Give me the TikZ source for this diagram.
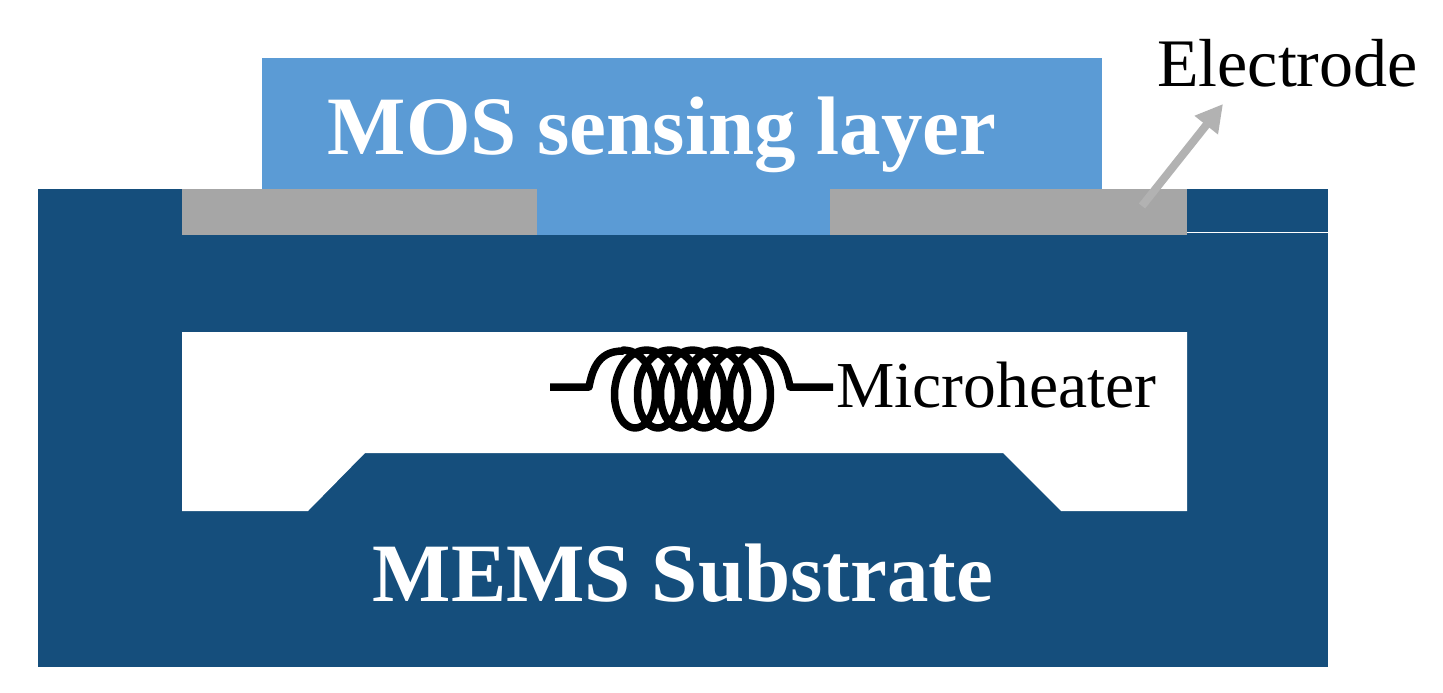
\documentclass[tikz,border=0pt]{standalone}
\usepackage{fontspec}
\setmainfont{Liberation Serif}
\usetikzlibrary{arrows.meta}
\definecolor{subst}{HTML}{154E7C}
\definecolor{moslayer}{HTML}{5B9BD5}
\definecolor{elec}{HTML}{A6A6A6}
\definecolor{arrowgrey}{HTML}{B2B2B2}
\tikzset{
  x=1pt,y=-1pt,
  fillonly/.style={fill=#1,draw=none},
  boldlabel/.style={font=\fontsize{83}{83}\selectfont\bfseries,text=white,inner sep=0pt,anchor=base},
  thinlabel/.style={text=black,inner sep=0pt,anchor=base west},
  coilline/.style={draw=black,line width=7.5pt,line join=round},
}
\begin{document}
\begin{tikzpicture}
\useasboundingbox (0,0) rectangle (1443,693);
\fill[white] (0,0) rectangle (1443,693);
\path[fillonly=subst] (38,189) rectangle (1328,667);
\path[fillonly=moslayer] (262,58) rectangle (1102,189);
\path[fillonly=moslayer] (537,189) rectangle (830,235);
\path[fillonly=elec] (182,189) rectangle (537,235);
\path[fillonly=elec] (830,189) rectangle (1187,235);
\draw[white,line width=1.5pt] (1187,232.5) -- (1328,232.5);
\path[fillonly=white] (182,332) -- (1187,332) -- (1187,511) -- (1061,511) -- (1003,453) -- (365,453) -- (308,511) -- (182,511) -- cycle;
% electrode arrow
\coordinate (arrowstart) at (1142,206);
\coordinate (arrowend) at (1223,104);
\draw[arrowgrey,line width=8pt,-{Triangle[length=27pt,width=28pt]}] (arrowstart) -- (arrowend);
\node[boldlabel] (mos) at (662,154.5) {MOS sensing layer};
\node[boldlabel] (mems) at (683,601) {MEMS Substrate};
\node[thinlabel,font=\fontsize{68}{68}\selectfont] (electrode) at (1157,86) {Electrode};
\node[thinlabel,font=\fontsize{65.6}{65.6}\selectfont] (heater) at (836,407.5) {Microheater};
% coil
\draw[coilline] (550,387) -- (589,387) .. controls (593,365) and (601,351) .. (623,351)
  -- plot[smooth,samples=145,domain=0:2160,variable=\t] ({623.5+0.063889*\t+26*sin(\t)},{389-39*cos(\t)})
  -- (761,351) .. controls (778,351) and (786,365) .. (790,387) -- (833,387);
\end{tikzpicture}
\end{document}
